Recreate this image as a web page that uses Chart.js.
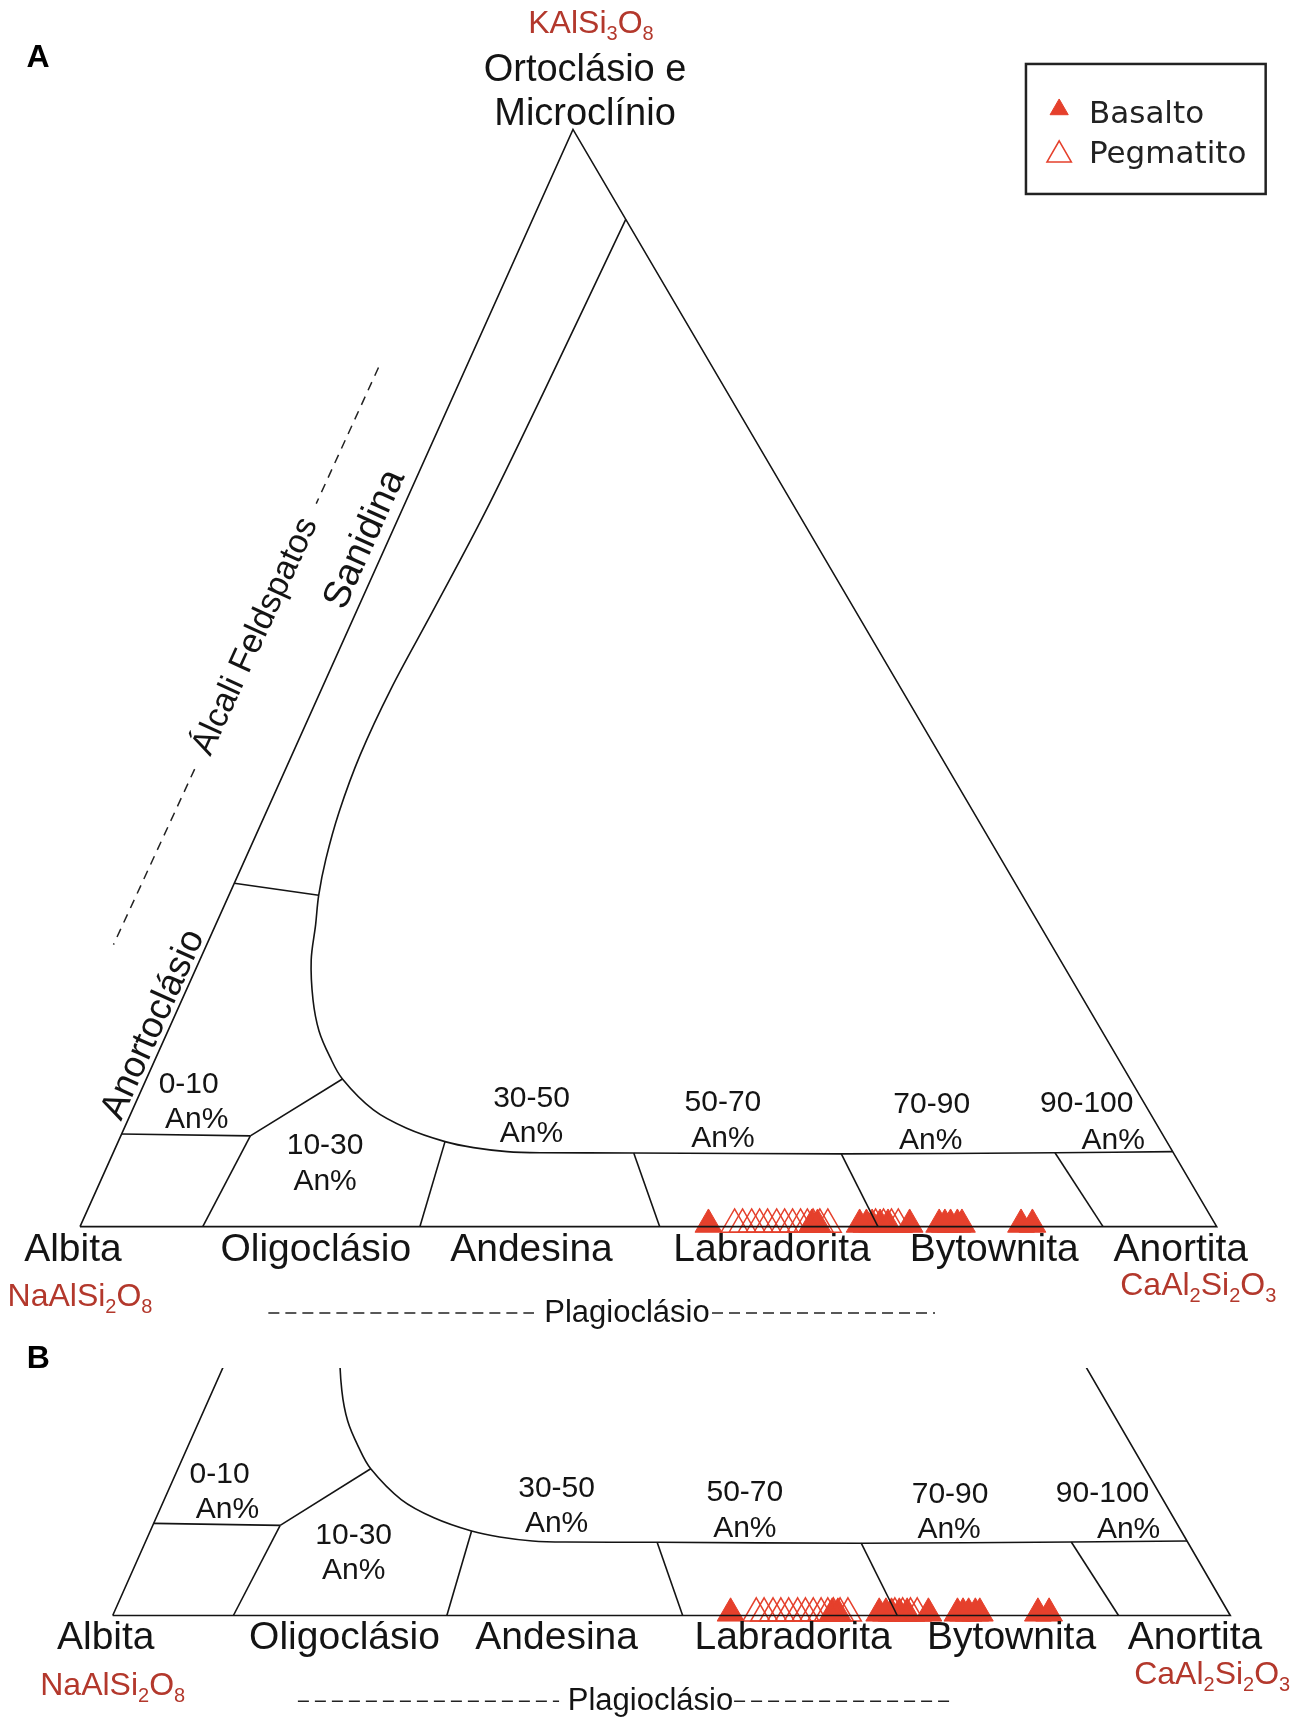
<!DOCTYPE html>
<html><head><meta charset="utf-8">
<script src="https://cdn.jsdelivr.net/npm/chart.js@4.4.1/dist/chart.umd.min.js"></script>
<style>
html,body{margin:0;padding:0;background:#fff;}
#wrap{position:relative;width:1302px;height:1718px;overflow:hidden;background:#fff;}
#cA{position:absolute;left:0;top:0;}
#cB{position:absolute;left:0;top:1340px;}
</style></head><body>
<div id="wrap"><canvas id="cA" width="1302" height="1340"></canvas><canvas id="cB" width="1302" height="378"></canvas></div>
<script>
// ---------------- DATA (ternary compositions, in % : [An, Or]) ----------------
const seriesNames = ['Basalto', 'Pegmatito'];
const basaltoAn = [55.2, 64.3, 64.8, 68.5, 69.1, 69.6, 70.3, 71.0, 72.9, 75.5, 76.0, 76.5, 77.1, 77.5, 82.7, 83.7];
const basaltoOr = [0.2, 0.2, 0.2, 0.2, 0.2, 0.2, 0.2, 0.2, 0.2, 0.2, 0.2, 0.2, 0.2, 0.2, 0.2, 0.2];
const pegmatitoAn = [57.5, 58.2, 59.0, 59.7, 60.4, 61.2, 61.9, 62.6, 63.3, 63.9, 64.4, 65.0, 65.7, 69.9, 70.6, 71.3, 71.9];
const pegmatitoOr = [0.2, 0.2, 0.2, 0.2, 0.2, 0.2, 0.2, 0.2, 0.2, 0.2, 0.2, 0.2, 0.2, 0.2, 0.2, 0.2, 0.2];

// diagram boundaries [An, Or]
const outlineAnOr = [[0, 0], [100, 0], [0, 100], [0, 0]];
const solvusAnOr = [[8.2, 91.8], [7.8, 76], [7.4, 65], [6.7, 56], [6.1, 49], [6.0, 43], [6.4, 37.8], [7.1, 33.5],
  [7.9, 30.2], [8.8, 27.5], [9.8, 24.3], [11.54, 20.66], [13.29, 17.84], [15.28, 15.47], [17.25, 13.46], [21.2, 10.64],
  [24.85, 8.97], [28.75, 7.75], [31.5, 7.2], [34.6, 6.84], [37.6, 6.74], [45.8, 6.72], [64.1, 6.63], [82.85, 6.74], [93.16, 6.84]];
const sanidineDividerAnOr = [[0, 31.3], [7.9, 30.2]];
const an10LineAnOr = [[0, 8.45], [11.4, 8.27]];
const an10JoinAnOr = [[11.4, 8.27], [17.25, 13.46]];
const plagDividersAnOr = [
  [[11.4, 8.27], [10.8, 0]],
  [[28.75, 7.75], [29.9, 0]],
  [[45.8, 6.72], [51.0, 0]],
  [[64.1, 6.63], [70.2, 0]],
  [[82.85, 6.74], [90.0, 0]]
];
const alkaliDashAnOr = [[[-7.7, 78.3], [-7.8, 65.9]], [[-8.0, 41.7], [-8.2, 25.7]]];

// text
const fieldNames = ['Albita', 'Oligoclásio', 'Andesina', 'Labradorita', 'Bytownita', 'Anortita'];
const anRangeLabels = ['0-10', '10-30', '30-50', '50-70', '70-90', '90-100'];
const endMemberFormulas = ['KAlSi3O8', 'NaAlSi2O8', 'CaAl2Si2O3'];

// ---------------- geometry ----------------
const APEX_SKEW = 0.4337; // position of the Or apex along the base
function T(an, or) { return { x: an + APEX_SKEW * or, y: or }; }
const toXY = pairs => pairs.map(p => T(p[0], p[1]));

const RED = '#e5402c';
const FRED = '#b3382c';
const INK = '#141414';
const FF = '"Liberation Sans", Arial, Helvetica, sans-serif';

function buildDatasets() {
  const line = { type: 'scatter', showLine: true, pointRadius: 0, pointHoverRadius: 0, pointHitRadius: 0,
    borderColor: INK, borderWidth: 1.6, fill: false, order: 0, tension: 0, clip: 0 };
  const ds = [
    Object.assign({}, line, { label: 'outline', data: toXY(outlineAnOr) }),
    Object.assign({}, line, { label: 'solvus', data: toXY(solvusAnOr), tension: 0.35 }),
    Object.assign({}, line, { label: 'sanidine', data: toXY(sanidineDividerAnOr) }),
    Object.assign({}, line, { label: 'an10', data: toXY(an10LineAnOr) }),
    Object.assign({}, line, { label: 'an10join', data: toXY(an10JoinAnOr) })
  ];
  plagDividersAnOr.forEach((seg, i) => ds.push(Object.assign({}, line, { label: 'div' + i, data: toXY(seg) })));
  ds.push({ type: 'scatter', label: seriesNames[1], order: 1, clip: 0,
    data: pegmatitoAn.map((a, i) => T(a, pegmatitoOr[i])),
    pointStyle: 'triangle', pointRadius: 15.5, pointHoverRadius: 15.5,
    backgroundColor: 'rgba(0,0,0,0)', borderColor: RED, borderWidth: 1.5 });
  ds.push({ type: 'scatter', label: seriesNames[0], order: 2, clip: 0,
    data: basaltoAn.map((a, i) => T(a, basaltoOr[i])),
    pointStyle: 'triangle', pointRadius: 15.5, pointHoverRadius: 15.5,
    backgroundColor: RED, borderColor: RED, borderWidth: 1 });
  return ds;
}

// ---------------- drawing helpers ----------------
function txt(ctx, s, x, y, font, color, angle) {
  ctx.save();
  ctx.translate(x, y);
  if (angle) ctx.rotate(angle);
  ctx.font = font; ctx.fillStyle = color; ctx.textAlign = 'center'; ctx.textBaseline = 'middle';
  ctx.fillText(s, 0, 0);
  ctx.restore();
}
function formula(ctx, s, cx, cy, color) {
  const main = '32px ' + FF, sub = '20px ' + FF;
  const parts = s.match(/[0-9]+|[^0-9]+/g).map(p => ({ t: p, sub: /^[0-9]/.test(p) }));
  ctx.save();
  let w = 0;
  parts.forEach(p => { ctx.font = p.sub ? sub : main; p.w = ctx.measureText(p.t).width; w += p.w; });
  let x = cx - w / 2;
  const base = cy + 11.5;
  ctx.fillStyle = color; ctx.textAlign = 'left'; ctx.textBaseline = 'alphabetic';
  parts.forEach(p => { ctx.font = p.sub ? sub : main; ctx.fillText(p.t, x, p.sub ? base + 7 : base); x += p.w; });
  ctx.restore();
}
function dashed(ctx, x1, y1, x2, y2, dash) {
  ctx.save();
  ctx.strokeStyle = '#222'; ctx.lineWidth = 1.5; ctx.setLineDash(dash);
  ctx.beginPath(); ctx.moveTo(x1, y1); ctx.lineTo(x2, y2); ctx.stroke();
  ctx.restore();
}
function tri(ctx, x, y, r, filled) {
  ctx.save();
  ctx.beginPath();
  ctx.moveTo(x, y - r);
  ctx.lineTo(x + 0.866 * r, y + 0.5 * r);
  ctx.lineTo(x - 0.866 * r, y + 0.5 * r);
  ctx.closePath();
  if (filled) { ctx.fillStyle = RED; ctx.fill(); ctx.strokeStyle = RED; ctx.lineWidth = 1; ctx.stroke(); }
  else { ctx.strokeStyle = RED; ctx.lineWidth = 1.6; ctx.stroke(); }
  ctx.restore();
}

function labelPlugin(panel) {
  return {
    id: 'labels' + panel,
    afterDraw(chart) {
      const ctx = chart.ctx, xs = chart.scales.x, ys = chart.scales.y;
      const P = (X, Y) => [xs.getPixelForValue(X), ys.getPixelForValue(Y)];
      const PT = (an, or) => { const q = T(an, or); return P(q.x, q.y); };

      // panel letter
      const L = panel === 'A' ? P(-3.695, 106.52) : P(-6.65, 23.53);
      txt(ctx, panel, L[0], L[1], 'bold 32px ' + FF, '#000');

      // plagioclase names under the base
      const nameX = [-0.62, 20.74, 39.72, 60.88, 80.43, 96.84];
      fieldNames.forEach((n, i) => { const p = P(nameX[i], -2.12); txt(ctx, n, p[0], p[1], '39px ' + FF, INK); });

      // An% ranges
      const rangePos = [
        [[9.56, 12.91], [10.27, 9.72]],
        [[21.56, 7.35], [21.56, 4.14]],
        [[39.72, 11.64], [39.72, 8.45]],
        [[56.56, 11.27], [56.56, 7.99]],
        [[74.93, 11.09], [74.84, 7.87]],
        [[88.57, 11.18], [90.90, 7.87]]
      ];
      anRangeLabels.forEach((r, i) => {
        const a = P(rangePos[i][0][0], rangePos[i][0][1]);
        const b = P(rangePos[i][1][0], rangePos[i][1][1]);
        txt(ctx, r, a[0], a[1], '30px ' + FF, INK);
        txt(ctx, 'An%', b[0], b[1], '30px ' + FF, INK);
      });

      // end member formulas
      const na = P(0, -6.2), ca = P(98.38, -5.2);
      formula(ctx, endMemberFormulas[1], na[0], na[1], FRED);
      formula(ctx, endMemberFormulas[2], ca[0], ca[1], FRED);

      // Plagioclásio with dashes
      const pl = P(48.12, -7.87);
      txt(ctx, 'Plagioclásio', pl[0], pl[1], '31px ' + FF, INK);
      const d1a = P(16.57, -7.87), d1b = P(39.94, -7.87), d2a = P(55.60, -7.87), d2b = P(75.22, -7.87);
      dashed(ctx, d1a[0], d1a[1], d1b[0], d1b[1], [11, 6]);
      dashed(ctx, d2a[0], d2a[1], d2b[0], d2b[1], [11, 6]);

      if (panel !== 'A') return;

      // top apex labels
      const k = P(44.95, 109.82);
      formula(ctx, endMemberFormulas[0], k[0], k[1], FRED);
      const o1 = P(44.43, 105.35), o2 = P(44.43, 101.35);
      txt(ctx, 'Ortoclásio e', o1[0], o1[1], '38px ' + FF, INK);
      txt(ctx, 'Microclínio', o2[0], o2[1], '38px ' + FF, INK);

      // rotated labels along the Ab-Or side
      const s0 = PT(0, 0), s1 = PT(0, 100);
      const ang = Math.atan2(s1[1] - s0[1], s1[0] - s0[0]);
      const san = P(25.07, 62.63), ano = P(6.46, 18.41);
      txt(ctx, 'Sanidina', san[0], san[1], '38px ' + FF, INK, ang);
      txt(ctx, 'Anortoclásio', ano[0], ano[1], '37px ' + FF, INK, ang);

      // Álcali Feldspatos dashed guide
      alkaliDashAnOr.forEach(seg => {
        const a = PT(seg[0][0], seg[0][1]), b = PT(seg[1][0], seg[1][1]);
        dashed(ctx, a[0], a[1], b[0], b[1], [9, 7]);
      });
      const ga = PT(alkaliDashAnOr[0][0][0], alkaliDashAnOr[0][0][1]);
      const gb = PT(alkaliDashAnOr[1][1][0], alkaliDashAnOr[1][1][1]);
      const angA = Math.atan2(ga[1] - gb[1], ga[0] - gb[0]);
      const al = PT(-7.9, 53.8);
      txt(ctx, 'Álcali Feldspatos', al[0], al[1], '34px ' + FF, INK, angA);

      // legend box
      const lb = P(83.22, 105.97);
      ctx.save();
      ctx.strokeStyle = '#222'; ctx.lineWidth = 2.5;
      ctx.strokeRect(lb[0], lb[1], 239.7, 130);
      ctx.restore();
      tri(ctx, lb[0] + 33.2, lb[1] + 45.5, 10.5, true);
      tri(ctx, lb[0] + 33.2, lb[1] + 91, 14, false);
      ctx.save();
      ctx.font = '31px "DejaVu Sans", sans-serif'; ctx.fillStyle = '#222';
      ctx.textAlign = 'left'; ctx.textBaseline = 'middle';
      ctx.fillText(seriesNames[0], lb[0] + 63, lb[1] + 51);
      ctx.fillText(seriesNames[1], lb[0] + 63, lb[1] + 91);
      ctx.restore();
    }
  };
}

function makeChart(id, panel, xr, yr, padTop) {
  return new Chart(document.getElementById(id), {
    type: 'scatter',
    data: { datasets: buildDatasets() },
    options: {
      responsive: false, animation: false, devicePixelRatio: 1, events: [],
      layout: { autoPadding: false, padding: { top: padTop, left: 0, right: 0, bottom: 0 } },
      plugins: { legend: { display: false }, tooltip: { enabled: false }, title: { display: false } },
      scales: {
        x: { type: 'linear', min: xr[0], max: xr[1], display: false },
        y: { type: 'linear', min: yr[0], max: yr[1], display: false }
      }
    },
    plugins: [labelPlugin(panel)]
  });
}

makeChart('cA', 'A', [-7.038, 107.504], [-10.33, 111.80], 0);
makeChart('cB', 'B', [-10.084, 106.416], [-9.404, 22.706], 28);
</script>
</body></html>
